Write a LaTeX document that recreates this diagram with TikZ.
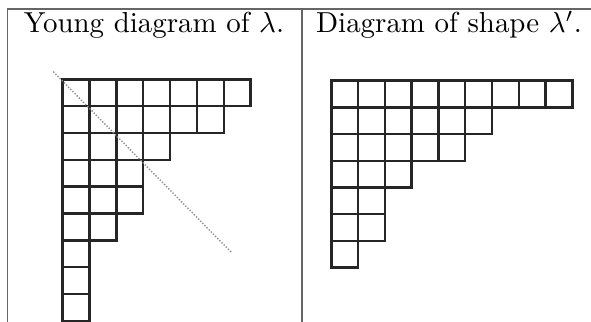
\documentclass[tikz,border=0pt]{standalone}
\begin{document}
\begin{tikzpicture}[x=0.346pt,y=-0.346pt,
  rule/.style={draw=black!60,line width=0.4pt},
  cell/.style={draw=black!85,line width=0.85pt},
  diag/.style={draw=black!45,line width=0.5pt,dash pattern=on 0.45pt off 0.6pt}]
\useasboundingbox (0,0) rectangle (591,322);
\draw[rule] (7.5,322) -- (7.5,9) -- (591,9);
\draw[rule] (302,9) -- (302,322);
\node[anchor=base,inner sep=0pt] (h1) at (154,33) {Young diagram of $\lambda$.};
\node[anchor=base,inner sep=0pt] (h2) at (449,33) {Diagram of shape $\lambda'$.};
% left diagram
\foreach \len [count=\r from 0] in {7,6,4,3,3,2,1,1,1} {
  \foreach \c in {1,...,\len} {
    \draw[cell] ({62.7+(\c-1)*26.85},{79.3+\r*26.85}) rectangle ++(26.85,26.85);
  }
}
\coordinate (d1) at (53.3,71.7);
\coordinate (d2) at (231.7,252.7);
\draw[diag] (d1) -- (d2);
% right diagram
\foreach \len [count=\r from 0] in {9,6,5,3,2,2,1} {
  \foreach \c in {1,...,\len} {
    \draw[cell] ({331.3+(\c-1)*26.78},{80.7+\r*26.7}) rectangle ++(26.78,26.7);
  }
}
\end{tikzpicture}
\end{document}
